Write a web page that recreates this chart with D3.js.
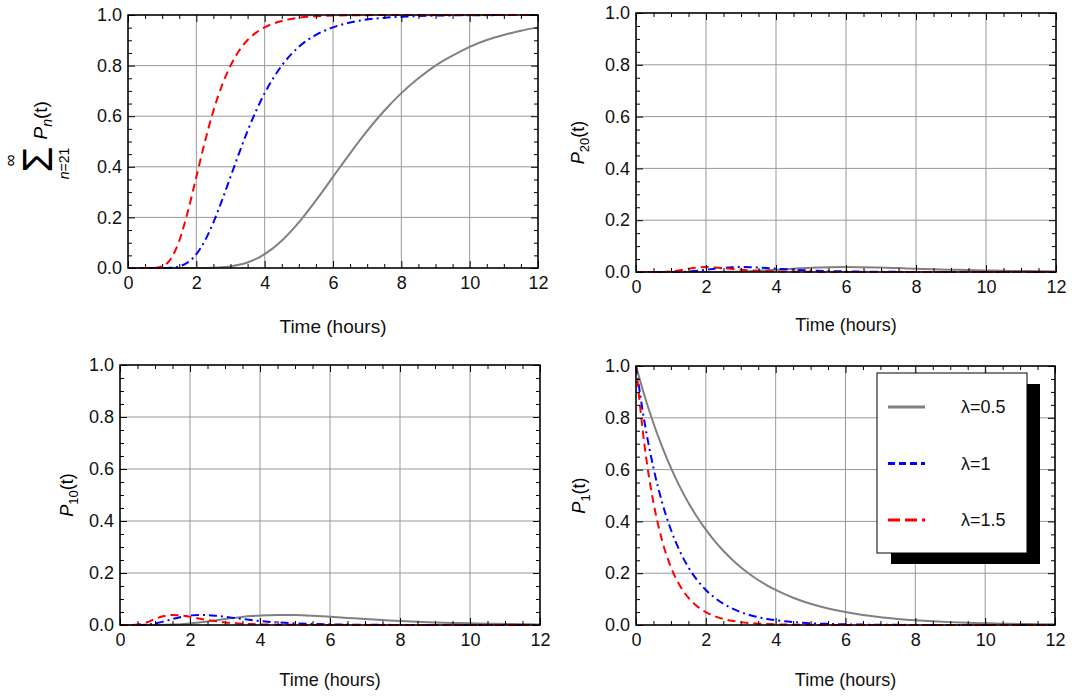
<!DOCTYPE html>
<html>
<head>
<meta charset="utf-8">
<script src="https://cdn.jsdelivr.net/npm/d3@7"></script>
<style>
  body { margin: 0; background: #fff; }
  svg { display: block; font-family: "Liberation Sans", Arial, Helvetica, sans-serif; }
  .grid line { stroke: #999; stroke-width: 1; }
  .axis path { display: none; }
  .axis line { stroke: #000; stroke-width: 1; }
  .axis text { font-size: 18px; fill: #111; }
</style>
</head>
<body>
<svg id="chart" width="1072" height="696"></svg>
<script>
// time samples (hours)
const times = [0, 0.25, 0.5, 0.75, 1, 1.25, 1.5, 1.75, 2, 2.25, 2.5, 2.75, 3, 3.25, 3.5, 3.75, 4,
  4.5, 5, 5.5, 6, 6.5, 7, 7.5, 8, 8.5, 9, 9.5, 10, 10.5, 11, 11.5, 12];

const lambdas = ['0.5', '1', '1.5'];
const xTicks = [0, 2, 4, 6, 8, 10, 12];
const yTicks = [0, 0.2, 0.4, 0.6, 0.8, 1.0];

// sum over n >= 21
const sumL05 = [0, 0, 0, 0, 0, 0, 0, 0, 0.0001, 0.0004, 0.0012, 0.0029, 0.0064, 0.0125, 0.0220, 0.0358, 0.0546,
  0.1078, 0.1803, 0.2670, 0.3601, 0.4532, 0.5417, 0.6216, 0.6912, 0.7498, 0.8000, 0.8396, 0.8742, 0.9010, 0.9211, 0.9379, 0.9511];
const sumL1 = [0, 0, 0, 0, 0.0001, 0.0012, 0.0064, 0.0220, 0.0546, 0.1078, 0.1803, 0.2670, 0.3601, 0.4532, 0.5417, 0.6216, 0.6912,
  0.8000, 0.8742, 0.9211, 0.9511, 0.9704, 0.9822, 0.9891, 0.9932, 0.9960, 0.9976, 0.9985, 0.9991, 0.9994, 0.9997, 0.9998, 0.9999];
const sumL15 = [0, 0, 0, 0.0004, 0.0064, 0.0358, 0.1078, 0.2224, 0.3601, 0.4986, 0.6216, 0.7214, 0.8000, 0.8585, 0.9010, 0.9304, 0.9511,
  0.9763, 0.9891, 0.9948, 0.9976, 0.9988, 0.9994, 0.9997, 0.9999, 1, 1, 1, 1, 1, 1, 1, 1];

// P20
const p20L05 = [0, 0, 0, 0, 0, 0, 0, 0, 0.0001, 0.0002, 0.0005, 0.0010, 0.0018, 0.0031, 0.0046, 0.0065, 0.0086,
  0.0127, 0.0161, 0.0182, 0.0189, 0.0183, 0.0169, 0.0150, 0.0129, 0.0109, 0.0090, 0.0074, 0.0059, 0.0047, 0.0038, 0.0030, 0.0024];
const p20L1 = [0, 0, 0, 0, 0.0001, 0.0005, 0.0018, 0.0046, 0.0086, 0.0127, 0.0161, 0.0182, 0.0189, 0.0183, 0.0169, 0.0150, 0.0129,
  0.0090, 0.0059, 0.0038, 0.0024, 0.0015, 0.0009, 0.0006, 0.0003, 0.0002, 0.0001, 0.0001, 0, 0, 0, 0, 0];
const p20L15 = [0, 0, 0, 0.0002, 0.0018, 0.0065, 0.0127, 0.0174, 0.0189, 0.0177, 0.0150, 0.0119, 0.0090, 0.0066, 0.0047, 0.0034, 0.0024,
  0.0012, 0.0006, 0.0003, 0.0001, 0, 0, 0, 0, 0, 0, 0, 0, 0, 0, 0, 0];

// P10
const p10L05 = [0, 0, 0, 0, 0.0001, 0.0005, 0.0015, 0.0033, 0.0059, 0.0095, 0.0137, 0.0184, 0.0230, 0.0274, 0.0312, 0.0343, 0.0366,
  0.0387, 0.0380, 0.0353, 0.0315, 0.0272, 0.0229, 0.0190, 0.0155, 0.0126, 0.0100, 0.0080, 0.0063, 0.0050, 0.0040, 0.0031, 0.0024];
const p10L1 = [0, 0, 0.0001, 0.0015, 0.0059, 0.0137, 0.0230, 0.0312, 0.0366, 0.0387, 0.0380, 0.0353, 0.0315, 0.0272, 0.0229, 0.0190, 0.0155,
  0.0100, 0.0063, 0.0040, 0.0024, 0.0015, 0.0009, 0.0006, 0.0003, 0.0002, 0.0001, 0.0001, 0, 0, 0, 0, 0];
const p10L15 = [0, 0, 0.0015, 0.0095, 0.0230, 0.0343, 0.0387, 0.0368, 0.0315, 0.0250, 0.0190, 0.0140, 0.0100, 0.0071, 0.0050, 0.0035, 0.0024,
  0.0012, 0.0006, 0.0003, 0.0001, 0, 0, 0, 0, 0, 0, 0, 0, 0, 0, 0, 0];

// P1
const p1L05 = [1, 0.8825, 0.7788, 0.6873, 0.6065, 0.5353, 0.4724, 0.4169, 0.3679, 0.3247, 0.2865, 0.2528, 0.2231, 0.1969, 0.1738, 0.1534, 0.1353,
  0.1054, 0.0821, 0.0639, 0.0498, 0.0388, 0.0302, 0.0235, 0.0183, 0.0143, 0.0111, 0.0087, 0.0067, 0.0052, 0.0041, 0.0032, 0.0025];
const p1L1 = [1, 0.7788, 0.6065, 0.4724, 0.3679, 0.2865, 0.2231, 0.1738, 0.1353, 0.1054, 0.0821, 0.0639, 0.0498, 0.0388, 0.0302, 0.0235, 0.0183,
  0.0111, 0.0067, 0.0041, 0.0025, 0.0015, 0.0009, 0.0006, 0.0003, 0.0002, 0.0001, 0.0001, 0, 0, 0, 0, 0];
const p1L15 = [1, 0.6873, 0.4724, 0.3247, 0.2231, 0.1534, 0.1054, 0.0724, 0.0498, 0.0342, 0.0235, 0.0162, 0.0111, 0.0076, 0.0052, 0.0036, 0.0025,
  0.0012, 0.0006, 0.0003, 0.0001, 0, 0, 0, 0, 0, 0, 0, 0, 0, 0, 0, 0];

const styles = [
  {color: '#808080', dash: null},
  {color: '#0000ff', dash: '8,4,2,4'},
  {color: '#ff0000', dash: '8,5'},
];

const svg = d3.select('#chart');

const panels = [
  {x0: 128, x1: 538, y0: 268, y1: 15, series: [sumL05, sumL1, sumL15], label: 'sum', lx: 47, titleSize: 19, titleDy: 65},
  {x0: 636, x1: 1056, y0: 272, y1: 13, series: [p20L05, p20L1, p20L15], label: '20', lx: 584, titleSize: 18, titleDy: 59},
  {x0: 120, x1: 540, y0: 625, y1: 365, series: [p10L05, p10L1, p10L15], label: '10', lx: 73, titleSize: 18, titleDy: 61},
  {x0: 636, x1: 1055, y0: 625, y1: 366, series: [p1L05, p1L1, p1L15], label: '1', lx: 585, titleSize: 18, titleDy: 61},
];

function drawYLabel(g, p) {
  const cy = (p.y0 + p.y1) / 2;
  const lg = g.append('g').attr('transform', `translate(${p.lx},${cy}) rotate(-90)`);
  if (p.label === 'sum') {
    // big sigma with limits
    lg.append('text').attr('x', -18).attr('y', 5).attr('text-anchor', 'middle')
      .attr('font-size', 42).text('\u03a3');
    lg.append('text').attr('x', -19).attr('y', -31).attr('text-anchor', 'middle')
      .attr('font-size', 17).text('\u221e');
    const sub = lg.append('text').attr('x', -22).attr('y', 22).attr('text-anchor', 'middle')
      .attr('font-size', 14);
    sub.append('tspan').attr('font-style', 'italic').text('n');
    sub.append('tspan').text('=21');
    const t = lg.append('text').attr('x', 2).attr('y', 0).attr('font-size', 19);
    t.append('tspan').attr('font-style', 'italic').text('P');
    t.append('tspan').attr('font-style', 'italic').attr('font-size', 14).attr('dy', 5).text('n');
    t.append('tspan').attr('dy', -5).text('(t)');
  } else {
    const t = lg.append('text').attr('x', 0).attr('y', 0).attr('text-anchor', 'middle').attr('font-size', 18);
    t.append('tspan').attr('font-style', 'italic').text('P');
    t.append('tspan').attr('font-size', 13).attr('dy', 5).text(p.label);
    t.append('tspan').attr('dy', -5).text('(t)');
  }
}

function drawPanel(p) {
  const x = d3.scaleLinear().domain([0, 12]).range([p.x0, p.x1]);
  const y = d3.scaleLinear().domain([0, 1]).range([p.y0, p.y1]);
  const g = svg.append('g');

  const grid = g.append('g').attr('class', 'grid');
  grid.selectAll('line.v').data(xTicks).join('line').attr('class', 'v')
    .attr('x1', d => x(d)).attr('x2', d => x(d)).attr('y1', p.y0).attr('y2', p.y1);
  grid.selectAll('line.h').data(yTicks).join('line').attr('class', 'h')
    .attr('y1', d => y(d)).attr('y2', d => y(d)).attr('x1', p.x0).attr('x2', p.x1);

  const line = d3.line().curve(d3.curveMonotoneX)
    .x((d, i) => x(times[i])).y(d => y(d));
  p.series.forEach((vals, i) => {
    g.append('path').datum(vals)
      .attr('d', line)
      .attr('fill', 'none')
      .attr('stroke', styles[i].color)
      .attr('stroke-width', 2)
      .attr('stroke-dasharray', styles[i].dash);
  });

  const xMinor = d3.range(0, 12.01, 0.5).filter(v => v % 2 !== 0);
  const yMinor = d3.range(0, 1.001, 0.05).map(v => +v.toFixed(2)).filter(v => Math.round(v * 100) % 20 !== 0);

  const axes = [
    [d3.axisBottom, `translate(0,${p.y0})`, x, xTicks, xMinor, true],
    [d3.axisTop, `translate(0,${p.y1})`, x, xTicks, xMinor, false],
    [d3.axisLeft, `translate(${p.x0},0)`, y, yTicks, yMinor, true],
    [d3.axisRight, `translate(${p.x1},0)`, y, yTicks, yMinor, false],
  ];
  axes.forEach(([fn, tr, sc, major, minor, labels]) => {
    const isY = sc === y;
    g.append('g').attr('class', 'axis').attr('transform', tr)
      .call(fn(sc).tickValues(minor).tickSize(-4).tickFormat(''));
    g.append('g').attr('class', 'axis').attr('transform', tr)
      .call(fn(sc).tickValues(major).tickSize(-7).tickPadding(isY ? 6 : 8)
        .tickFormat(labels ? (isY ? d3.format('.1f') : d3.format('d')) : ''));
  });

  g.append('rect')
    .attr('x', p.x0).attr('y', p.y1)
    .attr('width', p.x1 - p.x0).attr('height', p.y0 - p.y1)
    .attr('fill', 'none').attr('stroke', '#000').attr('stroke-width', 1.5);

  g.append('text')
    .attr('x', (p.x0 + p.x1) / 2).attr('y', p.y0 + p.titleDy)
    .attr('text-anchor', 'middle').attr('font-size', p.titleSize).attr('fill', '#111')
    .text('Time (hours)');

  drawYLabel(g, p);
}

panels.forEach(drawPanel);

// legend in the P1 panel
const legend = svg.append('g');
legend.append('rect').attr('x', 891).attr('y', 384).attr('width', 149).attr('height', 180).attr('fill', '#000');
legend.append('rect').attr('x', 877).attr('y', 373).attr('width', 150).attr('height', 180)
  .attr('fill', '#fff').attr('stroke', '#000').attr('stroke-width', 1);
lambdas.forEach((lam, i) => {
  const ly = 407 + i * 56.5;
  legend.append('line').attr('x1', 888).attr('x2', 925).attr('y1', ly).attr('y2', ly)
    .attr('stroke', styles[i].color).attr('stroke-width', 3)
    .attr('stroke-dasharray', styles[i].dash ? (i === 1 ? '7,4' : '12,5') : null);
  legend.append('text').attr('x', 961).attr('y', ly + 6).attr('font-size', 18).attr('fill', '#111')
    .text('\u03bb=' + lam);
});
</script>
</body>
</html>
